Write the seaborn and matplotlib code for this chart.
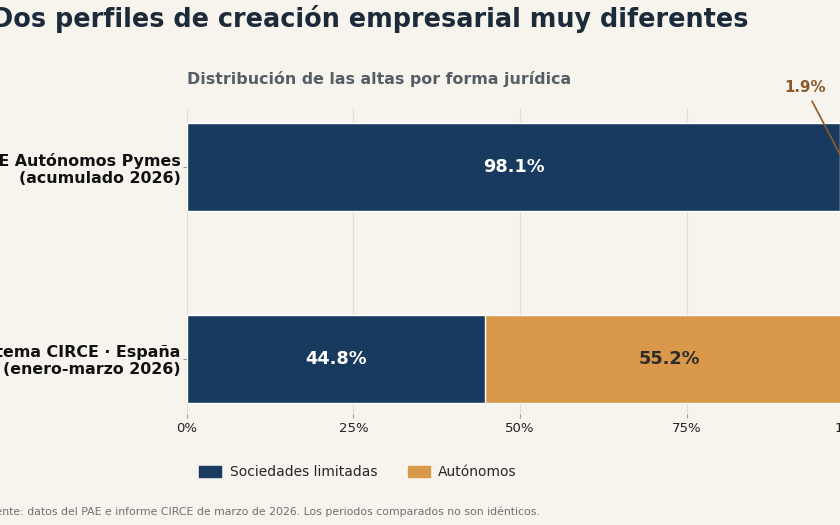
import numpy as np
import pandas as pd
import matplotlib
matplotlib.use("Agg")
import matplotlib.pyplot as plt
from matplotlib.ticker import FuncFormatter
from matplotlib.patches import Patch
import seaborn as sns

sns.set_style("ticks")
plt.rcParams['font.family'] = ['DejaVu Sans']

# data
fuentes = ["PAE Autónomos Pymes\n(acumulado 2026)", "Sistema CIRCE · España\n(enero-marzo 2026)"]
sociedades = [98.1, 44.8]
autonomos = [1.9, 55.2]
xticks = [0, 25, 50, 75, 100]

bg = "#f7f4ee"
navy = "#173a5e"
orange = "#d9984a"
brown = "#8b5a2b"

df = pd.DataFrame({"fuente": fuentes, "sl": sociedades, "aut": autonomos})
df["total"] = df["sl"] + df["aut"]

fig = plt.figure(figsize=(8.4, 5.25), dpi=100, facecolor=bg)
ax = fig.add_axes([0.2226, 0.2114, 0.7929, 0.583])
ax.set_facecolor(bg)

# orange drawn as full length, navy on top
sns.barplot(data=df, y="fuente", x="total", color=orange, width=0.46, ax=ax,
            saturation=1, zorder=2)
sns.barplot(data=df, y="fuente", x="sl", color=navy, width=0.46, ax=ax,
            saturation=1, zorder=3)

ax.set_xlim(0, 100)
ax.set_ylim(1.29, -0.31)
ax.set_xticks(xticks)
ax.xaxis.set_major_formatter(FuncFormatter(lambda v, p: f"{v:.0f}%"))
ax.tick_params(axis="x", labelsize=9.5, length=3, color="#999999", pad=2.5,
               labelcolor="#222222")
ax.tick_params(axis="y", labelsize=11.4, length=3, color="#999999", pad=1.5,
               labelcolor="#111111")
for lab in ax.get_yticklabels():
    lab.set_fontweight("bold")
    lab.set_linespacing(1.15)
ax.grid(axis="x", color="#e3ded5", linewidth=0.9, zorder=0)
ax.set_axisbelow(True)
sns.despine(ax=ax, left=True, bottom=True)
ax.set_xlabel("")
ax.set_ylabel("")

for i, row in df.iterrows():
    ax.text(row["sl"] / 2, i, f"{row['sl']:.1f}%", ha="center", va="center",
            color="white", fontsize=12.8, fontweight="bold", zorder=4)
    if row["aut"] > 10:
        ax.text(row["sl"] + row["aut"] / 2, i, f"{row['aut']:.1f}%", ha="center",
                va="center", color="#2b2b2b", fontsize=12.8, fontweight="bold", zorder=4)
    else:
        ax.annotate(f"{row['aut']:.1f}%", xy=(row["sl"] + row["aut"] / 2, i),
                    xytext=(92.8, i - 0.415), ha="center", va="center",
                    color=brown, fontsize=10.8, fontweight="bold",
                    arrowprops=dict(arrowstyle="-", color=brown, lw=1.2),
                    annotation_clip=False, zorder=5)

ax.set_title("Distribución de las altas por forma jurídica", loc="left",
             fontsize=11.4, fontweight="bold", color="#555e66", pad=17)

fig.text(-0.01, 0.963, "Dos perfiles de creación empresarial muy diferentes",
         fontsize=18.4, fontweight="bold", color="#1c2b3a", ha="left", va="center")

handles = [Patch(color=navy, label="Sociedades limitadas"),
           Patch(color=orange, label="Autónomos")]
fig.legend(handles=handles, loc="center left", bbox_to_anchor=(0.222, 0.1),
           ncol=2, frameon=False, fontsize=10, handlelength=1.6, handleheight=0.9,
           handletextpad=0.6, columnspacing=2.2)

fig.text(-0.02, 0.026, "Fuente: datos del PAE e informe CIRCE de marzo de 2026. Los periodos comparados no son idénticos.",
         fontsize=7.85, color="#6f6f6f", ha="left", va="center")

fig.savefig("out.png", dpi=100, facecolor=bg)
